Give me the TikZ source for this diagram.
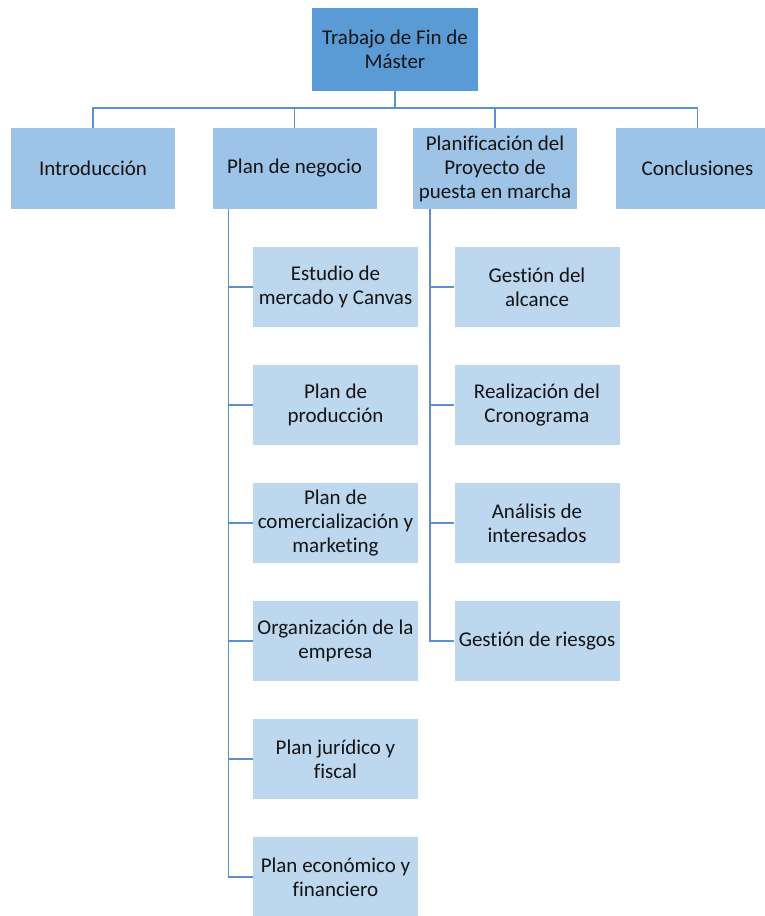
\documentclass[tikz,border=0pt]{standalone}
\usepackage{fontspec}
\setmainfont[Ligatures=CommonOff]{Carlito}
\definecolor{topfill}{HTML}{5B9BD5}
\definecolor{midfill}{HTML}{9DC3E6}
\definecolor{lowfill}{HTML}{BDD7EE}
\definecolor{linecol}{HTML}{5B8FCF}
\definecolor{txt}{HTML}{141414}
\begin{document}
\begin{tikzpicture}[x=1pt,y=-1pt,
  box/.style={inner sep=0pt, align=center, text=txt, font=\fontsize{21}{24}\selectfont},
  topbox/.style={box, fill=topfill, minimum width=166pt, minimum height=83pt},
  midbox/.style={box, fill=midfill, minimum width=164pt, minimum height=81pt},
  lowbox/.style={box, fill=lowfill, minimum width=165pt, minimum height=80pt},
  conn/.style={draw=linecol, line width=1.5pt}]
\useasboundingbox (0,0) rectangle (765,916);
\clip (0,0) rectangle (765,916);
\node[topbox] (top) at (395,49.5) {Trabajo de Fin de\\Máster};
\node[midbox] (intro) at (93,168.5) {Introducción};
\node[midbox] (plan) at (294.5,168.5) {Plan de negocio};
\node[midbox] (planif) at (495,168.5) {Planificación del\\Proyecto de\\puesta en marcha};
\node[midbox] (concl) at (697.5,168.5) {Conclusiones};
\node[lowbox] (a1) at (335.5,287) {Estudio de\\mercado y Canvas};
\node[lowbox] (a2) at (335.5,405) {Plan de\\producción};
\node[lowbox] (a3) at (335.5,523) {Plan de\\comercialización y\\marketing};
\node[lowbox] (a4) at (335.5,641) {Organización de la\\empresa};
\node[lowbox] (a5) at (335.5,759) {Plan jurídico y\\fiscal};
\node[lowbox] (a6) at (335.5,877) {Plan económico y\\financiero};
\node[lowbox] (b1) at (537,287) {Gestión del\\alcance};
\node[lowbox] (b2) at (537,405) {Realización del\\Cronograma};
\node[lowbox] (b3) at (537,523) {Análisis de\\interesados};
\node[lowbox] (b4) at (537,641) {Gestión de riesgos};
\coordinate (bus) at (395,108);
\draw[conn] (top.south) -- (bus);
\draw[conn] (intro.north) |- (bus) -| (concl.north);
\draw[conn] (plan.north) -- (plan.north |- bus);
\draw[conn] (planif.north) -- (planif.north |- bus);
\coordinate (pl) at ([xshift=16pt]plan.south west);
\coordinate (pf) at ([xshift=17pt]planif.south west);
\foreach \n in {a1,a2,a3,a4,a5,a6} { \draw[conn] (pl) |- (\n.west); }
\foreach \n in {b1,b2,b3,b4} { \draw[conn] (pf) |- (\n.west); }
\end{tikzpicture}
\end{document}
